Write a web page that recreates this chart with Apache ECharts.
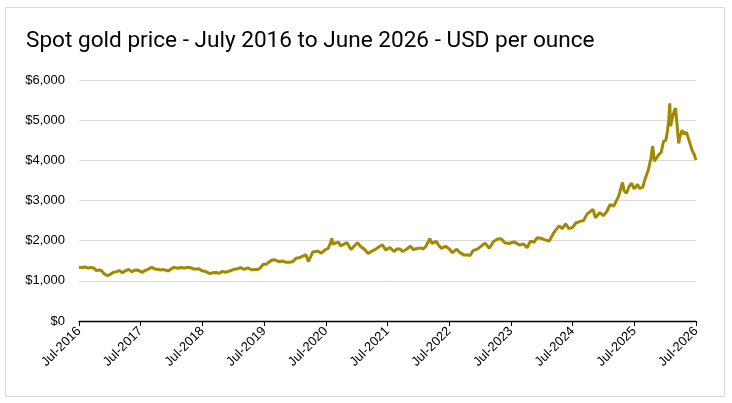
<!DOCTYPE html>
<html>
<head>
<meta charset="utf-8">
<script src="https://cdn.jsdelivr.net/npm/echarts@6/dist/echarts.min.js"></script>
<style>
  html, body { margin: 0; padding: 0; background: #fff; }
  #chart { width: 732px; height: 403px; }
</style>
</head>
<body>
<div id="chart"></div>
<script>
// 数据: 日期与金价
const dates = [
  '2016-07-01', '2016-07-20', '2016-08-05', '2016-08-25', '2016-09-10', '2016-09-28',
  '2016-10-10', '2016-10-28', '2016-11-10', '2016-11-25', '2016-12-15', '2016-12-30',
  '2017-01-20', '2017-02-10', '2017-02-25', '2017-03-15', '2017-04-01', '2017-04-20',
  '2017-05-10', '2017-05-25', '2017-06-10', '2017-06-25', '2017-07-10', '2017-07-25',
  '2017-08-10', '2017-09-05', '2017-09-25', '2017-10-10', '2017-10-25', '2017-11-15',
  '2017-12-12', '2017-12-28', '2018-01-15', '2018-01-25', '2018-02-10', '2018-02-25',
  '2018-03-15', '2018-04-10', '2018-04-25', '2018-05-15', '2018-06-10', '2018-06-28',
  '2018-07-15', '2018-08-15', '2018-08-30', '2018-09-20', '2018-10-10', '2018-10-28',
  '2018-11-15', '2018-12-10', '2018-12-31', '2019-01-25', '2019-02-15', '2019-03-05',
  '2019-03-25', '2019-04-20', '2019-05-10', '2019-05-25', '2019-06-10', '2019-06-25',
  '2019-07-15', '2019-08-10', '2019-08-30', '2019-09-15', '2019-09-30', '2019-10-15',
  '2019-11-10', '2019-11-30', '2019-12-20', '2020-01-08', '2020-01-25', '2020-02-20',
  '2020-03-05', '2020-03-19', '2020-04-05', '2020-04-15', '2020-05-15', '2020-06-05',
  '2020-06-30', '2020-07-15', '2020-07-30', '2020-08-06', '2020-08-12', '2020-08-25',
  '2020-09-15', '2020-09-28', '2020-10-15', '2020-11-05', '2020-11-28', '2020-12-20',
  '2021-01-06', '2021-01-25', '2021-02-15', '2021-03-08', '2021-03-25', '2021-04-15',
  '2021-05-10', '2021-06-01', '2021-06-20', '2021-07-15', '2021-08-09', '2021-08-25',
  '2021-09-15', '2021-09-29', '2021-10-20', '2021-11-15', '2021-11-30', '2021-12-20',
  '2022-01-15', '2022-01-30', '2022-02-15', '2022-03-08', '2022-03-20', '2022-04-15',
  '2022-05-01', '2022-05-15', '2022-06-10', '2022-06-30', '2022-07-20', '2022-08-15',
  '2022-09-01', '2022-09-28', '2022-10-15', '2022-11-03', '2022-11-20', '2022-12-15',
  '2023-01-10', '2023-01-30', '2023-02-25', '2023-03-20', '2023-04-13', '2023-05-04',
  '2023-05-25', '2023-06-20', '2023-07-20', '2023-08-20', '2023-09-15', '2023-10-05',
  '2023-10-25', '2023-11-15', '2023-12-04', '2023-12-28', '2024-01-20', '2024-02-15',
  '2024-03-08', '2024-04-12', '2024-05-01', '2024-05-20', '2024-06-10', '2024-07-01',
  '2024-07-20', '2024-08-15', '2024-09-05', '2024-09-25', '2024-10-30', '2024-11-14',
  '2024-12-10', '2024-12-30', '2025-01-20', '2025-02-10', '2025-03-01', '2025-03-31',
  '2025-04-22', '2025-05-02', '2025-05-15', '2025-06-01', '2025-06-15', '2025-06-30',
  '2025-07-20', '2025-08-01', '2025-08-20', '2025-09-05', '2025-09-22', '2025-10-08',
  '2025-10-18', '2025-10-28', '2025-11-08', '2025-11-25', '2025-12-08', '2025-12-22',
  '2026-01-05', '2026-01-14', '2026-01-22', '2026-01-28', '2026-02-03', '2026-02-10',
  '2026-02-22', '2026-03-02', '2026-03-10', '2026-03-20', '2026-03-28', '2026-04-10',
  '2026-04-22', '2026-05-05', '2026-05-20', '2026-06-08', '2026-06-20', '2026-07-01'
];
const prices = [
  1340, 1330, 1345, 1320, 1330, 1320,
  1260, 1270, 1265, 1185, 1130, 1150,
  1210, 1230, 1255, 1200, 1250, 1285,
  1225, 1265, 1270, 1245, 1210, 1255,
  1280, 1335, 1290, 1290, 1270, 1280,
  1245, 1295, 1335, 1355, 1315, 1330,
  1320, 1340, 1320, 1290, 1300, 1250,
  1240, 1180, 1200, 1205, 1190, 1235,
  1215, 1245, 1280, 1300, 1330, 1285,
  1320, 1275, 1285, 1280, 1330, 1410,
  1415, 1500, 1530, 1500, 1475, 1495,
  1460, 1465, 1480, 1570, 1570, 1620,
  1650, 1480, 1620, 1720, 1740, 1690,
  1780, 1810, 1960, 2060, 1910, 1940,
  1960, 1870, 1910, 1950, 1780, 1880,
  1950, 1850, 1790, 1680, 1730, 1770,
  1840, 1900, 1770, 1830, 1730, 1790,
  1790, 1730, 1780, 1865, 1780, 1800,
  1820, 1790, 1860, 2050, 1930, 1980,
  1880, 1810, 1860, 1800, 1700, 1790,
  1710, 1640, 1650, 1630, 1750, 1790,
  1870, 1940, 1810, 1980, 2040, 2050,
  1950, 1930, 1970, 1890, 1920, 1820,
  1990, 1960, 2070, 2060, 2020, 1990,
  2180, 2370, 2300, 2420, 2300, 2330,
  2440, 2480, 2500, 2660, 2780, 2570,
  2700, 2620, 2720, 2900, 2860, 3120,
  3450, 3240, 3180, 3350, 3430, 3290,
  3400, 3300, 3330, 3550, 3750, 4050,
  4350, 3980, 3950, 4150, 4200, 4480,
  4500, 4720, 5000, 5420, 4850, 5000,
  5200, 5300, 4900, 4420, 4600, 4750,
  4650, 4700, 4500, 4250, 4150, 4010
];
// Y 轴刻度标签
const yTicks = [0, 1000, 2000, 3000, 4000, 5000, 6000];
const xStartYear = 2016;

// 日期 -> 距 2016 年 7 月的月数
function toMonths(s) {
  let parts = s.split('-').map(Number);
  return (parts[0] - xStartYear) * 12 + (parts[1] - 7) + (parts[2] - 1) / 30;
}

function money(v) {
  return '$' + String(v).replace(/\B(?=(\d{3})+(?!\d))/g, ',');
}

let seriesData = dates.map(function (d, i) {
  return [toMonths(d), prices[i]];
});

let myChart = echarts.init(document.getElementById('chart'));
myChart.setOption({
  animation: false,
  title: {
    text: 'Spot gold price - July 2016 to June 2026 - USD per ounce',
    left: 21,
    top: 25,
    textStyle: {
      fontFamily: 'Roboto',
      fontSize: 22.6,
      fontWeight: 'normal',
      color: '#000'
    }
  },
  graphic: [{
    type: 'rect',
    shape: { x: 5.5, y: 7.5, width: 719, height: 389 },
    style: { fill: 'none', stroke: '#d9d9d9', lineWidth: 1 },
    silent: true
  }],
  grid: {
    left: 79,
    right: 36,
    top: 80,
    bottom: 82
  },
  xAxis: {
    type: 'value',
    min: 0,
    max: 120,
    interval: 12,
    axisLine: { show: true, onZero: false, lineStyle: { color: '#000', width: 1.3 } },
    axisTick: { show: true, length: 5, lineStyle: { color: '#000' } },
    splitLine: { show: false },
    axisLabel: {
      rotate: 45,
      margin: 8,
      fontFamily: 'Liberation Sans',
      fontSize: 13,
      color: '#000',
      formatter: function (v) {
        return 'Jul-' + (xStartYear + Math.round(v / 12));
      }
    }
  },
  yAxis: {
    type: 'value',
    min: yTicks[0],
    max: yTicks[yTicks.length - 1],
    interval: 1000,
    axisLine: { show: false },
    axisTick: { show: false },
    splitLine: { lineStyle: { color: '#d9d9d9', width: 1 } },
    axisLabel: {
      margin: 14,
      fontFamily: 'Liberation Sans',
      fontSize: 13,
      color: '#000',
      formatter: function (v) { return money(v); }
    }
  },
  series: [{
    type: 'line',
    data: seriesData,
    showSymbol: false,
    color: '#a38900',
    lineStyle: { width: 3, color: '#a38900' }
  }]
});
</script>
</body>
</html>
